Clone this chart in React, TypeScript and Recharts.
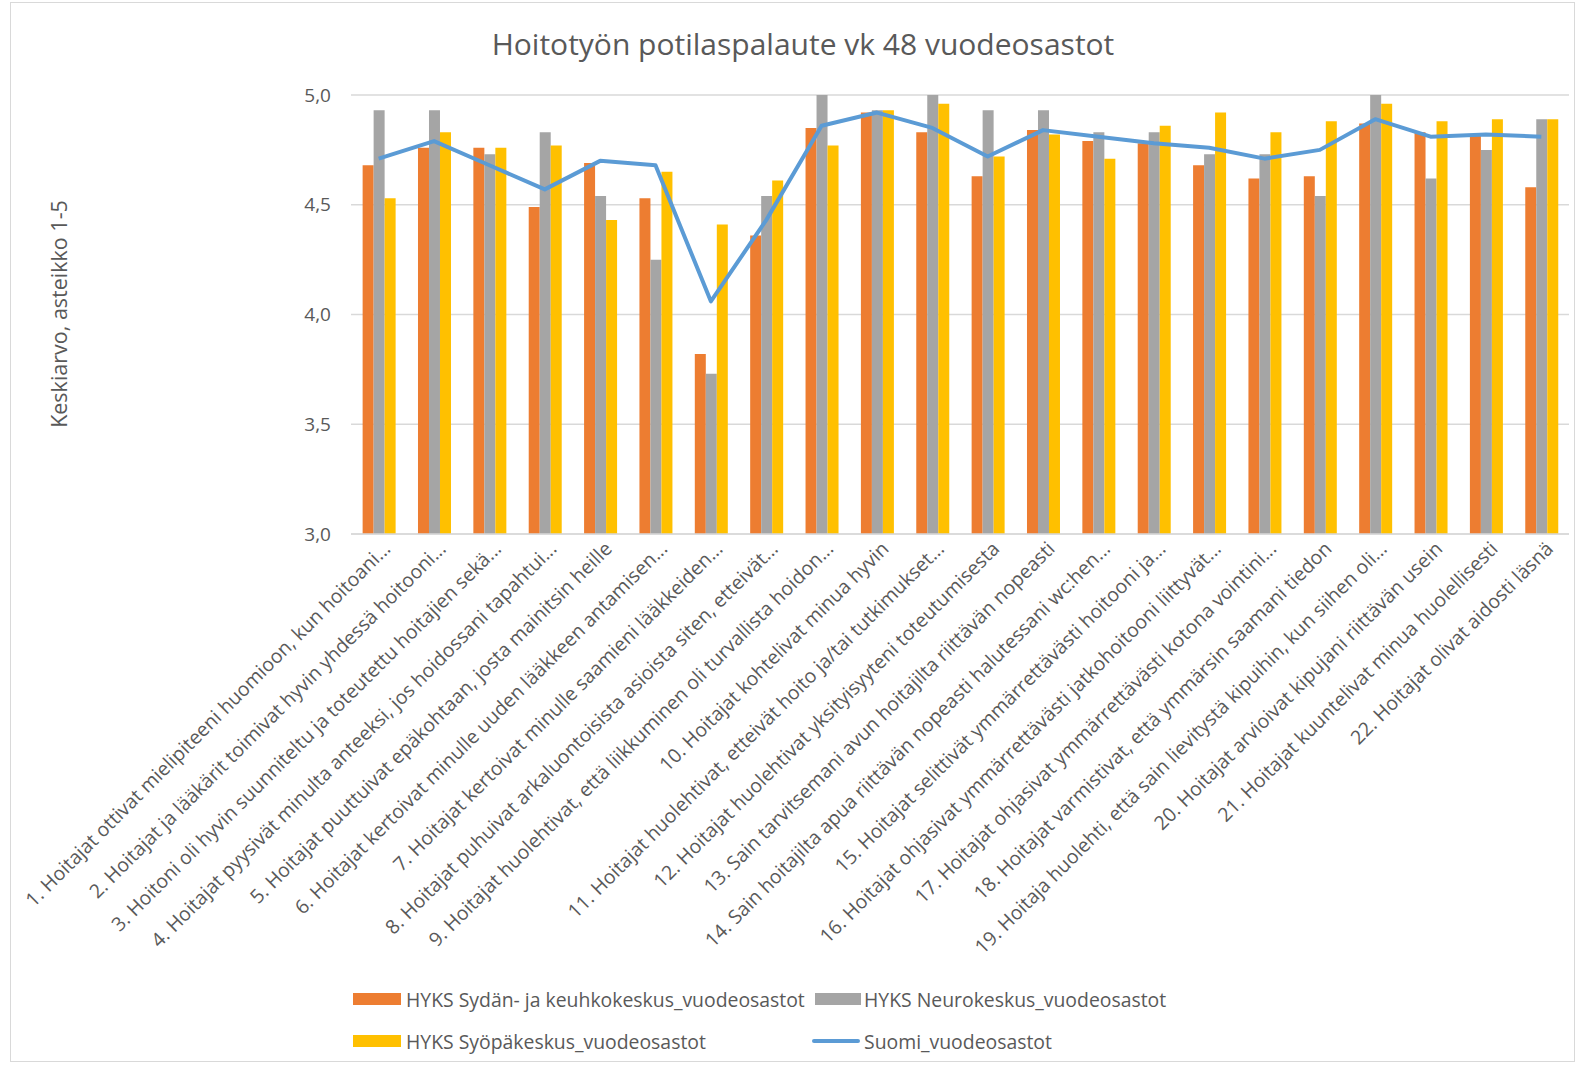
import React from 'react';
import { ComposedChart, Bar, Line, XAxis, YAxis, CartesianGrid } from 'recharts';

const categories = [
  '1. Hoitajat ottivat mielipiteeni huomioon, kun hoitoani...',
  '2. Hoitajat ja lääkärit toimivat hyvin yhdessä hoitooni...',
  '3. Hoitoni oli hyvin suunniteltu ja toteutettu hoitajien sekä...',
  '4. Hoitajat pyysivät minulta anteeksi, jos hoidossani tapahtui...',
  '5. Hoitajat puuttuivat epäkohtaan, josta mainitsin heille',
  '6. Hoitajat kertoivat minulle uuden lääkkeen antamisen...',
  '7. Hoitajat kertoivat minulle saamieni lääkkeiden...',
  '8. Hoitajat puhuivat arkaluontoisista asioista siten, etteivät...',
  '9. Hoitajat huolehtivat, että liikkuminen oli turvallista hoidon...',
  '10. Hoitajat kohtelivat minua hyvin',
  '11. Hoitajat huolehtivat, etteivät hoito ja/tai tutkimukset...',
  '12. Hoitajat huolehtivat yksityisyyteni toteutumisesta',
  '13. Sain tarvitsemani avun hoitajilta riittävän nopeasti',
  '14. Sain hoitajilta apua riittävän nopeasti halutessani wc:hen...',
  '15. Hoitajat selittivät ymmärrettävästi hoitooni ja...',
  '16. Hoitajat ohjasivat ymmärrettävästi jatkohoitooni liittyvät...',
  '17. Hoitajat ohjasivat ymmärrettävästi kotona vointini...',
  '18. Hoitajat varmistivat, että ymmärsin saamani tiedon',
  '19. Hoitaja huolehti, että sain lievitystä kipuihin, kun siihen oli...',
  '20. Hoitajat arvioivat kipujani riittävän usein',
  '21. Hoitajat kuuntelivat minua huolellisesti',
  '22. Hoitajat olivat aidosti läsnä',
];

const sydan = [4.68, 4.76, 4.76, 4.49, 4.69, 4.53, 3.82, 4.36, 4.85, 4.92, 4.83, 4.63, 4.84, 4.79, 4.78, 4.68, 4.62, 4.63, 4.87, 4.83, 4.82, 4.58];
const neuro = [4.93, 4.93, 4.73, 4.83, 4.54, 4.25, 3.73, 4.54, 5.0, 4.93, 5.0, 4.93, 4.93, 4.83, 4.83, 4.73, 4.73, 4.54, 5.0, 4.62, 4.75, 4.89];
const syopa = [4.53, 4.83, 4.76, 4.77, 4.43, 4.65, 4.41, 4.61, 4.77, 4.93, 4.96, 4.72, 4.82, 4.71, 4.86, 4.92, 4.83, 4.88, 4.96, 4.88, 4.89, 4.89];
const suomi = [4.71, 4.79, 4.68, 4.57, 4.70, 4.68, 4.06, 4.43, 4.86, 4.92, 4.85, 4.72, 4.84, 4.81, 4.78, 4.76, 4.71, 4.75, 4.89, 4.81, 4.82, 4.81];
const yTicks = [3, 3.5, 4, 4.5, 5];

const seriesNames = {
  sydan: 'HYKS Sydän- ja keuhkokeskus_vuodeosastot',
  neuro: 'HYKS Neurokeskus_vuodeosastot',
  syopa: 'HYKS Syöpäkeskus_vuodeosastot',
  suomi: 'Suomi_vuodeosastot',
};

const data = categories.map((name, i) => ({
  name,
  idx: i,
  sydan: sydan[i],
  neuro: neuro[i],
  syopa: syopa[i],
  suomi: suomi[i],
}));

const FONT = '"Open Sans", "Noto Sans", sans-serif';

const XTick = (props: any) => {
  const { x, y, payload } = props;
  return (
    <g transform={`translate(${x + 13},${y + 16}) rotate(-45)`}>
      <text textAnchor="end" fill="#595959" fontSize={19.5} fontFamily={FONT}>
        {payload.value}
      </text>
    </g>
  );
};

const legendText: React.CSSProperties = {
  position: 'absolute',
  transform: 'translateY(-50%)',
  fontSize: 19.4,
  fontFamily: FONT,
  color: '#595959',
  whiteSpace: 'nowrap',
};

export default function App() {
  return (
    <div style={{ position: 'absolute', left: 0, top: 0, width: 1581, height: 1066, background: '#fff', fontFamily: FONT }}>
      <div style={{ position: 'absolute', left: 10, top: 2, width: 1565, height: 1060, border: '1px solid #D9D9D9', boxSizing: 'border-box' }} />
      <div style={{ position: 'absolute', left: 0, width: 1606, top: 23, textAlign: 'center', fontSize: 30, color: '#595959', whiteSpace: 'nowrap' }}>
        Hoitotyön potilaspalaute vk 48 vuodeosastot
      </div>
      <div style={{ position: 'absolute', left: 58, top: 314, transform: 'translate(-50%, -50%) rotate(-90deg)', fontSize: 21.5, color: '#595959', whiteSpace: 'nowrap' }}>
        Keskiarvo, asteikko 1-5
      </div>
      <ComposedChart
        width={1581}
        height={1066}
        data={data}
        margin={{ top: 95, right: 12, bottom: 0, left: 0 }}
        barCategoryGap="21%"
        barGap={0}
        style={{ position: 'absolute', left: 0, top: 0 }}
      >
        <CartesianGrid vertical={false} stroke="#D9D9D9" strokeWidth={1.5} />
        <XAxis
          dataKey="name"
          interval={0}
          tick={<XTick />}
          tickLine={false}
          tickSize={0}
          tickMargin={0}
          axisLine={{ stroke: '#D9D9D9', strokeWidth: 1.5 }}
          height={532}
        />
        <YAxis
          domain={[3, 5]}
          ticks={yTicks}
          width={351}
          axisLine={false}
          tickLine={false}
          tickSize={0}
          tickMargin={20}
          tick={{ fill: '#595959', fontSize: 19, fontFamily: FONT }}
          tickFormatter={(v: number) => v.toFixed(1).replace('.', ',')}
        />
        <Bar dataKey="sydan" name={seriesNames.sydan} fill="#ED7D31" isAnimationActive={false} />
        <Bar dataKey="neuro" name={seriesNames.neuro} fill="#A5A5A5" isAnimationActive={false} />
        <Bar dataKey="syopa" name={seriesNames.syopa} fill="#FFC000" isAnimationActive={false} />
        <Line
          dataKey="suomi"
          name={seriesNames.suomi}
          type="linear"
          stroke="#5B9BD5"
          strokeWidth={4}
          dot={false}
          activeDot={false}
          strokeLinejoin="round"
          isAnimationActive={false}
        />
      </ComposedChart>
      <div style={{ position: 'absolute', left: 353, top: 993, width: 48, height: 12, background: '#ED7D31' }} />
      <div style={{ ...legendText, left: 406, top: 999 }}>{seriesNames.sydan}</div>
      <div style={{ position: 'absolute', left: 815, top: 993, width: 46, height: 12, background: '#A5A5A5' }} />
      <div style={{ ...legendText, left: 864, top: 999 }}>{seriesNames.neuro}</div>
      <div style={{ position: 'absolute', left: 353, top: 1035, width: 48, height: 12, background: '#FFC000' }} />
      <div style={{ ...legendText, left: 406, top: 1041 }}>{seriesNames.syopa}</div>
      <div style={{ position: 'absolute', left: 812, top: 1039, width: 48, height: 4, background: '#5B9BD5', borderRadius: 2 }} />
      <div style={{ ...legendText, left: 864, top: 1041 }}>{seriesNames.suomi}</div>
    </div>
  );
}
